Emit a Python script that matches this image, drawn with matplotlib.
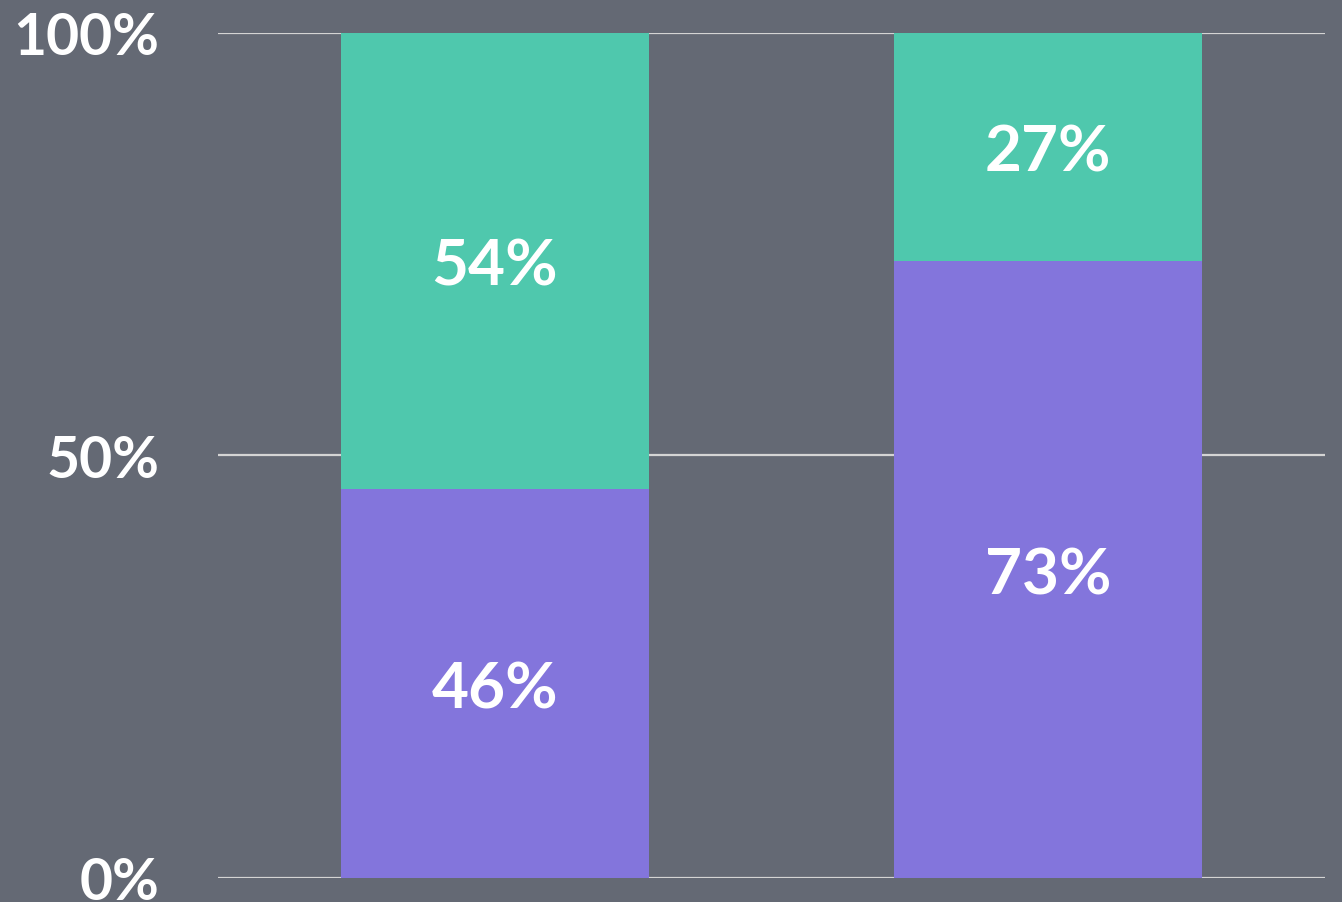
import matplotlib
matplotlib.use("Agg")
import matplotlib.pyplot as plt
import numpy as np

categories = ["A", "B"]
purple_vals = [46, 73]
teal_vals = [54, 27]
tick_vals = [0, 50, 100]
tick_labels = ["0%", "50%", "100%"]

bg = "#646974"
teal = "#4fc8ad"
purple = "#8375dc"

fig = plt.figure(figsize=(13.42, 9.03), dpi=100)
fig.patch.set_facecolor(bg)
ax = fig.add_axes([0.1624, 0.0266, 0.8249, 0.9358])
ax.set_facecolor("none")

x = np.arange(len(categories))
w = 0.556
ax.bar(x, purple_vals, width=w, color=purple, zorder=3)
ax.bar(x, teal_vals, width=w, bottom=purple_vals, color=teal, zorder=3)

for xi, p, t in zip(x, purple_vals, teal_vals):
    ax.text(xi, p / 2, f"{p}%", ha="center", va="center_baseline", color="white",
            fontsize=46, fontweight="bold", family="Lato", zorder=4)
    ax.text(xi, p + t / 2, f"{t}%", ha="center", va="center_baseline", color="white",
            fontsize=46, fontweight="bold", family="Lato", zorder=4)

for v in tick_vals:
    ax.axhline(v, color="#d4d4d4", lw=1.6, zorder=1)

ax.set_xlim(-0.5, 1.5)
ax.set_ylim(0, 100)
ax.set_yticks(tick_vals)
ax.set_yticklabels(tick_labels)
ax.tick_params(axis="y", length=0, pad=42, labelsize=41, labelcolor="white")
for lbl in ax.get_yticklabels():
    lbl.set_fontweight("bold")
    lbl.set_family("Lato")
ax.set_xticks([])
for s in ax.spines.values():
    s.set_visible(False)

fig.savefig("out.png", dpi=100, facecolor=bg)
